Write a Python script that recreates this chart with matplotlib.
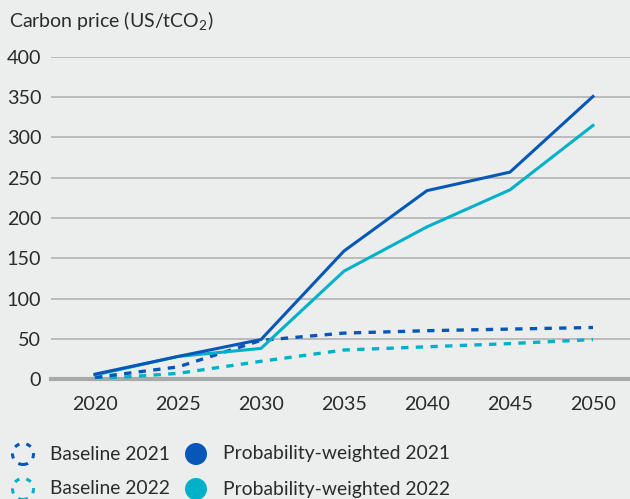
import matplotlib
matplotlib.use("Agg")
import matplotlib.pyplot as plt
from matplotlib.patches import Circle

years = [2020, 2025, 2030, 2035, 2040, 2045, 2050]
baseline_2021 = [2, 15, 48, 57, 60, 62, 64]
baseline_2022 = [0, 7, 22, 36, 40, 44, 49]
prob_2021 = [6, 28, 49, 159, 234, 257, 351]
prob_2022 = [5, 28, 38, 134, 189, 235, 315]
yticks = [0, 50, 100, 150, 200, 250, 300, 350, 400]

BLUE = "#0657b8"
CYAN = "#00b1c9"
BG = "#eceeed"
TXT = "#2b2b2b"

plt.rcParams['font.family'] = ['Lato', 'DejaVu Sans']
plt.rcParams['mathtext.fontset'] = 'custom'
plt.rcParams['mathtext.rm'] = 'Lato'
plt.rcParams['mathtext.default'] = 'rm'

fig = plt.figure(figsize=(6.3, 4.99), dpi=100, facecolor=BG)
ax = fig.add_axes([51/630, 120/499, 579/630, 322/499], facecolor=BG)

ax.set_ylim(0, 400)
ax.set_xlim(2020 - 44/16.6, 2050 + 37/16.6)
ax.set_yticks(yticks)
ax.set_xticks(years)
ax.yaxis.grid(True, color="#b3b3b3", linewidth=1.2)
ax.set_axisbelow(True)
for s in ax.spines.values():
    s.set_visible(False)
ax.tick_params(length=0, labelsize=14.2, colors=TXT, pad=7)
ax.tick_params(axis='x', pad=12)
ax.axhline(0, color="#a9a9a9", linewidth=3, clip_on=False, zorder=1)

ax.plot(years, baseline_2022, color=CYAN, lw=2.4, ls=(0, (2.2, 2.2)), zorder=3)
ax.plot(years, baseline_2021, color=BLUE, lw=2.4, ls=(0, (2.2, 2.2)), zorder=3)
ax.plot(years, prob_2022, color=CYAN, lw=2.2, zorder=4)
ax.plot(years, prob_2021, color=BLUE, lw=2.2, zorder=5)

fig.text(9/630, 1 - 21/499, "Carbon price (US/tCO$_2$)", fontsize=14, color=TXT,
         ha='left', va='center')

def px(x, y):
    return (x/100, (499 - y)/100)

legend_items = [
    (23, 454, BLUE, True, "Baseline 2021", 50),
    (23, 489, CYAN, True, "Baseline 2022", 50),
    (196, 454, BLUE, False, "Probability-weighted 2021", 223),
    (196, 489, CYAN, False, "Probability-weighted 2022", 223),
]
for x, y, c, dashed, label, tx in legend_items:
    if dashed:
        circ = Circle(px(x, y), 0.105, transform=fig.dpi_scale_trans, facecolor='none',
                      edgecolor=c, lw=2.2, ls=(0, (1.7, 2.3)))
    else:
        circ = Circle(px(x, y), 0.11, transform=fig.dpi_scale_trans, facecolor=c,
                      edgecolor='none')
    fig.add_artist(circ)
    fig.text(tx/630, 1 - y/499, label, fontsize=13.9, color=TXT, ha='left', va='center')

fig.savefig("out.png", dpi=100, facecolor=BG)
